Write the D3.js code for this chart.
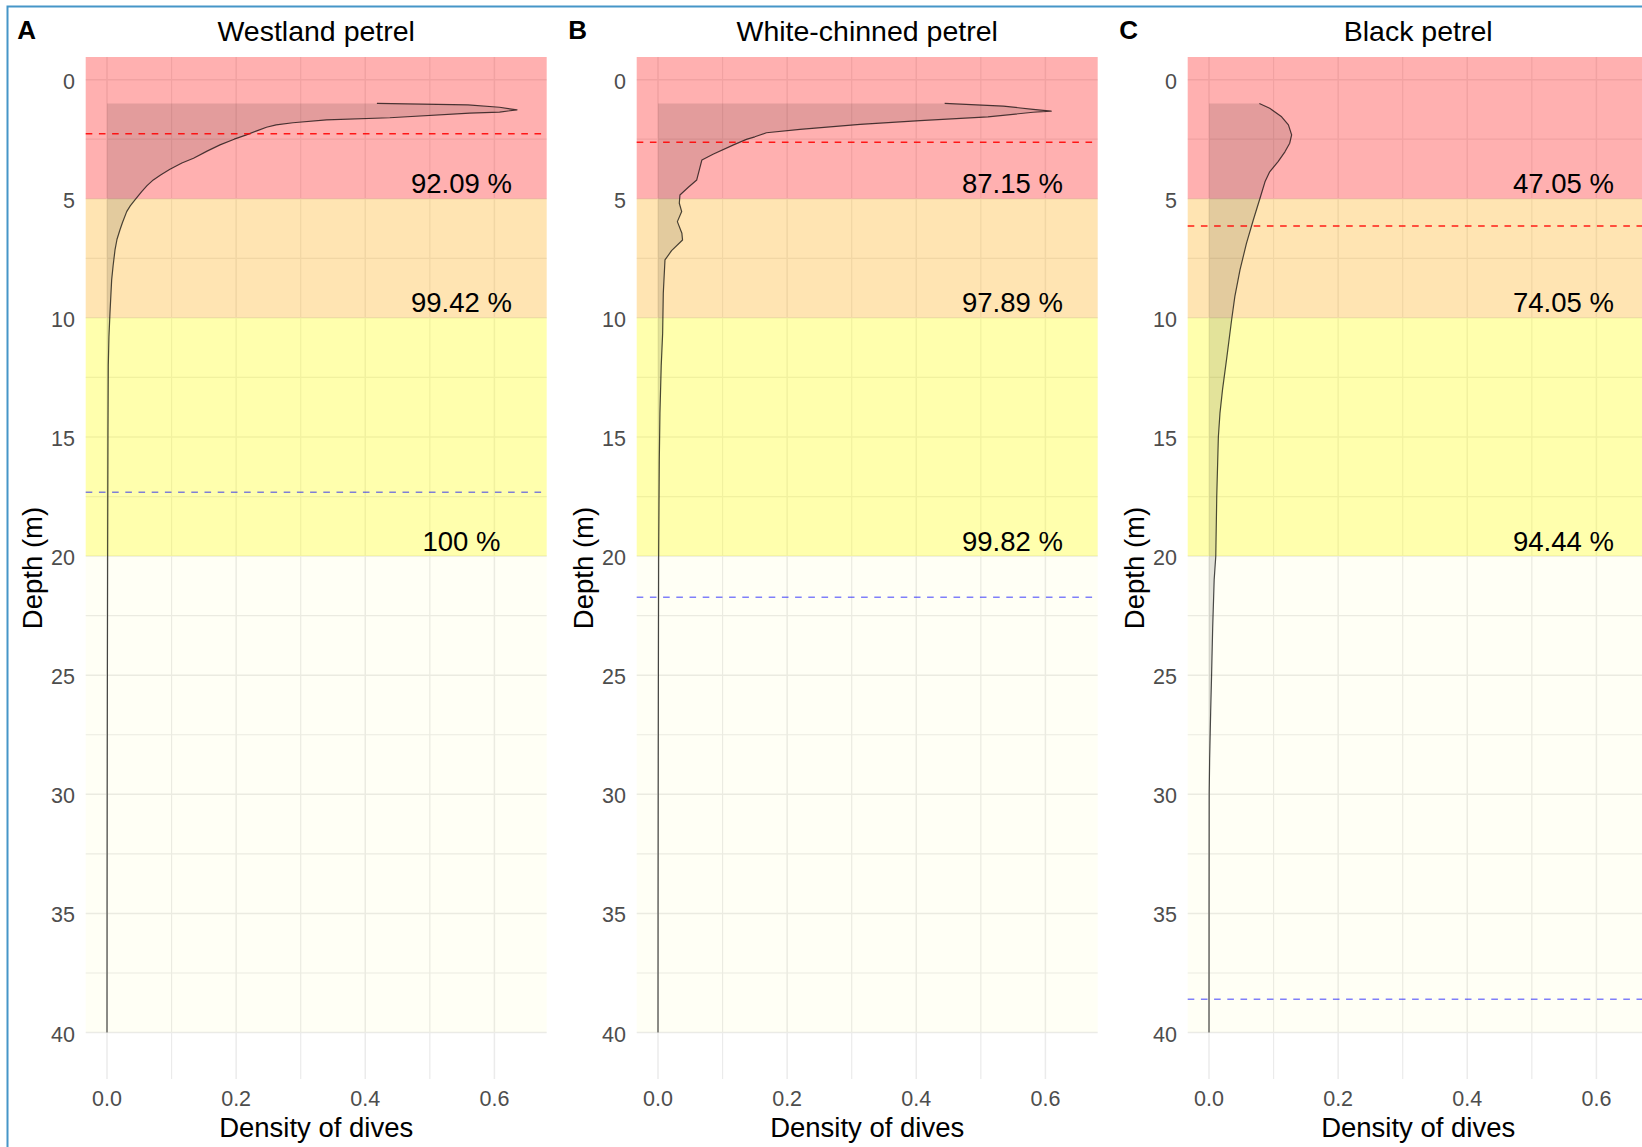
<!DOCTYPE html>
<html>
<head>
<meta charset="utf-8">
<script src="https://cdn.jsdelivr.net/npm/d3@7"></script>
<style>
  html, body { margin: 0; padding: 0; background: #fff; }
  svg { display: block; font-family: "Liberation Sans", Arial, sans-serif; }
</style>
</head>
<body>
<svg id="chart" width="1642" height="1147"></svg>
<script>
// Species shown in each panel
const speciesNames = ["Westland petrel", "White-chinned petrel", "Black petrel"];
const panelTags = ["A", "B", "C"];

// Kernel density of dive depths (depth in m, density)
const westlandDepth = [1.0, 1.06, 1.16, 1.27, 1.36, 1.41, 1.6, 1.69, 1.81, 1.9, 2.0, 2.15, 2.32, 2.5, 2.74, 3.0, 3.3, 3.5, 3.76, 4.0, 4.21, 4.45, 4.7, 5.05, 5.3, 5.54, 6.0, 6.31, 6.7, 7.15, 7.8, 8.41, 9.81, 10.79, 12, 15, 20, 25, 30, 35, 40];
const westlandDensity = [0.418, 0.559, 0.608, 0.635, 0.608, 0.562, 0.438, 0.340, 0.288, 0.262, 0.247, 0.232, 0.216, 0.197, 0.175, 0.155, 0.134, 0.116, 0.0975, 0.083, 0.0717, 0.062, 0.0537, 0.0433, 0.036, 0.0305, 0.024, 0.020, 0.0155, 0.0124, 0.0095, 0.0072, 0.0046, 0.003, 0.002, 0.0015, 0.001, 0.0006, 0.0003, 0.0001, 0];

const whiteChinnedDepth = [1.0, 1.11, 1.25, 1.32, 1.37, 1.56, 1.72, 1.88, 2.09, 2.23, 2.4, 2.51, 2.74, 3.12, 3.37, 3.79, 4.21, 4.52, 4.84, 5.19, 5.54, 5.96, 6.45, 6.73, 7.18, 7.57, 8.97, 10.65, 12, 14, 16, 18, 20, 25, 30, 35, 40];
const whiteChinnedDensity = [0.444, 0.535, 0.581, 0.609, 0.581, 0.511, 0.406, 0.313, 0.220, 0.168, 0.150, 0.137, 0.117, 0.086, 0.068, 0.064, 0.060, 0.047, 0.034, 0.033, 0.0367, 0.030, 0.037, 0.038, 0.021, 0.0108, 0.0082, 0.0072, 0.005, 0.003, 0.002, 0.0015, 0.001, 0.0006, 0.0003, 0.0001, 0];

const blackDepth = [1.0, 1.2, 1.56, 1.9, 2.32, 2.67, 3.03, 3.44, 3.87, 4.29, 4.98, 5.89, 6.87, 7.99, 9.11, 10.09, 11.7, 13, 14, 15, 17.5, 20, 21, 23, 25, 26.5, 28.5, 30, 35, 40];
const blackDensity = [0.078, 0.094, 0.1125, 0.123, 0.128, 0.125, 0.1176, 0.107, 0.094, 0.0867, 0.079, 0.0686, 0.058, 0.048, 0.040, 0.035, 0.0274, 0.021, 0.017, 0.0145, 0.012, 0.0105, 0.008, 0.0057, 0.004, 0.0026, 0.001, 0.0003, 0.0001, 0];

// Depth bands and the share of dives shallower than each band's lower edge
const bandTops = [-Infinity, 5, 10, 20];
const bandBottoms = [5, 10, 20, 40];
const bandColors = ["#ff0000", "#ffa500", "#ffff00", "#ffff00"];
const bandOpacity = [0.31, 0.3, 0.32, 0.04];
const westlandPct = ["92.09 %", "99.42 %", "100 %"];
const whiteChinnedPct = ["87.15 %", "97.89 %", "99.82 %"];
const blackPct = ["47.05 %", "74.05 %", "94.44 %"];

// Reference depths drawn as dashed lines
const meanDiveDepth = [2.27, 2.63, 6.14];
const maxDiveDepth = [17.32, 21.73, 38.6];

// Axis ticks
const xMajorTicks = [0, 0.2, 0.4, 0.6];
const xMinorTicks = [0.1, 0.3, 0.5];
const yMajorTicks = [0, 5, 10, 15, 20, 25, 30, 35, 40];
const yMinorTicks = [2.5, 7.5, 12.5, 17.5, 22.5, 27.5, 32.5, 37.5];

const panels = [
  { depth: westlandDepth, density: westlandDensity, pct: westlandPct },
  { depth: whiteChinnedDepth, density: whiteChinnedDensity, pct: whiteChinnedPct },
  { depth: blackDepth, density: blackDensity, pct: blackPct }
];

const svg = d3.select("#chart");
svg.append("rect").attr("width", 1642).attr("height", 1147).attr("fill", "#fff");

// outer frame
svg.append("rect")
  .attr("x", 7.5).attr("y", 6.5).attr("width", 1700).attr("height", 1200)
  .attr("fill", "none").attr("stroke", "#4696c8").attr("stroke-width", 2);

const panelStep = 551, panelLeft0 = 85.7, panelWidth = 461;
const plotTop = 57, plotBottom = 1079;

panels.forEach((p, i) => {
  const left = panelLeft0 + i * panelStep;
  const x = d3.scaleLinear().domain([-0.033, 0.681]).range([left, left + panelWidth]);
  const y = d3.scaleLinear().domain([-0.95, 41.95]).range([plotTop, plotBottom]);
  const g = svg.append("g");

  // grid
  const grid = g.append("g");
  grid.selectAll(".vminor").data(xMinorTicks).join("line")
    .attr("x1", d => x(d)).attr("x2", d => x(d)).attr("y1", plotTop).attr("y2", plotBottom)
    .attr("stroke", "#ebebeb").attr("stroke-width", 1.2);
  grid.selectAll(".vmajor").data(xMajorTicks).join("line")
    .attr("x1", d => x(d)).attr("x2", d => x(d)).attr("y1", plotTop).attr("y2", plotBottom)
    .attr("stroke", "#ebebeb").attr("stroke-width", 1.5);
  grid.selectAll(".hminor").data(yMinorTicks).join("line")
    .attr("y1", d => y(d)).attr("y2", d => y(d)).attr("x1", left).attr("x2", left + panelWidth)
    .attr("stroke", "#ebebeb").attr("stroke-width", 1.2);
  grid.selectAll(".hmajor").data(yMajorTicks).join("line")
    .attr("y1", d => y(d)).attr("y2", d => y(d)).attr("x1", left).attr("x2", left + panelWidth)
    .attr("stroke", "#ebebeb").attr("stroke-width", 1.5);

  // depth bands
  g.selectAll(".band").data(bandTops).join("rect")
    .attr("x", left).attr("width", panelWidth)
    .attr("y", (d, k) => isFinite(d) ? y(d) : plotTop)
    .attr("height", (d, k) => y(bandBottoms[k]) - (isFinite(d) ? y(d) : plotTop))
    .attr("fill", (d, k) => bandColors[k])
    .attr("fill-opacity", (d, k) => bandOpacity[k]);

  // density area and outline
  const pts = p.depth.map((d, k) => [p.density[k], d]);
  const area = d3.area().x0(x(0)).x1(d => x(d[0])).y(d => y(d[1]));
  g.append("path").datum(pts).attr("d", area)
    .attr("fill", "#000").attr("fill-opacity", 0.11);
  const line = d3.line().x(d => x(d[0])).y(d => y(d[1]));
  g.append("path").datum(pts).attr("d", line)
    .attr("fill", "none").attr("stroke", "#000").attr("stroke-opacity", 0.7)
    .attr("stroke-width", 1.2).attr("stroke-linejoin", "round");

  // dashed reference lines
  g.append("line")
    .attr("x1", left).attr("x2", left + panelWidth)
    .attr("y1", y(meanDiveDepth[i])).attr("y2", y(meanDiveDepth[i]))
    .attr("stroke", "#ff0000").attr("stroke-opacity", 0.88).attr("stroke-width", 1.5)
    .attr("stroke-dasharray", "6.6,6.6");
  g.append("line")
    .attr("x1", left).attr("x2", left + panelWidth)
    .attr("y1", y(maxDiveDepth[i])).attr("y2", y(maxDiveDepth[i]))
    .attr("stroke", "#0000ff").attr("stroke-opacity", 0.5).attr("stroke-width", 1.5)
    .attr("stroke-dasharray", "6.6,6.6");

  // percentage labels at the bottom of each band
  g.selectAll(".pct").data(p.pct).join("text")
    .attr("x", x(0.549)).attr("y", (d, k) => y(bandBottoms[k]) - 5.5)
    .attr("text-anchor", "middle").attr("font-size", 27.5).attr("fill", "#000")
    .text(d => d);

  // y tick labels
  g.selectAll(".ytick").data(yMajorTicks).join("text")
    .attr("x", left - 10.7).attr("y", d => y(d)).attr("dy", "0.42em")
    .attr("text-anchor", "end").attr("font-size", 21.5).attr("fill", "#4d4d4d")
    .text(d => d);

  // x tick labels
  const fmt = d3.format(".1f");
  g.selectAll(".xtick").data(xMajorTicks).join("text")
    .attr("x", d => x(d)).attr("y", 1105.8)
    .attr("text-anchor", "middle").attr("font-size", 21.5).attr("fill", "#4d4d4d")
    .text(d => fmt(d));

  // axis titles
  g.append("text")
    .attr("x", left + panelWidth / 2).attr("y", 1137)
    .attr("text-anchor", "middle").attr("font-size", 27.5).attr("fill", "#000")
    .text("Density of dives");
  g.append("text")
    .attr("transform", `translate(${41.7 + i * panelStep},${(plotTop + plotBottom) / 2}) rotate(-90)`)
    .attr("text-anchor", "middle").attr("font-size", 27.5).attr("fill", "#000")
    .text("Depth (m)");

  // panel title and tag
  g.append("text")
    .attr("x", left + panelWidth / 2).attr("y", 41)
    .attr("text-anchor", "middle").attr("font-size", 28.5).attr("fill", "#000")
    .text(speciesNames[i]);
  g.append("text")
    .attr("x", 17.3 + i * panelStep).attr("y", 39.3)
    .attr("font-size", 26).attr("font-weight", "bold").attr("fill", "#000")
    .text(panelTags[i]);
});
</script>
</body>
</html>
